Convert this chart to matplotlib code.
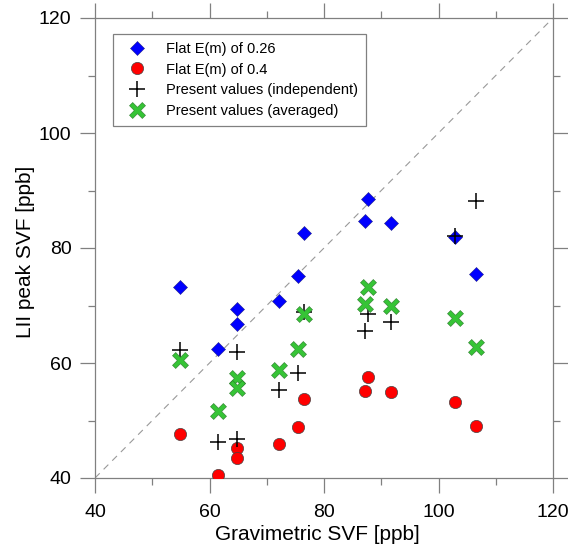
import matplotlib
matplotlib.use("Agg")
import numpy as np
import matplotlib.pyplot as plt
from matplotlib.ticker import MultipleLocator
from matplotlib.path import Path

plt.rcParams['font.family'] = ['Liberation Sans', 'DejaVu Sans']

gravimetric = [54.85, 61.5, 64.75, 64.75, 72.1, 75.5, 76.5, 87.2, 87.7, 91.7, 102.9, 106.5]
flat_026 = [73.2, 62.4, 69.4, 66.8, 70.8, 75.2, 82.6, 84.7, 88.5, 84.4, 81.9, 75.5]
flat_04 = [47.6, 40.5, 45.2, 43.4, 46.0, 48.9, 53.7, 55.2, 57.5, 54.9, 53.2, 49.1]
present_indep = [62.3, 46.3, 61.9, 46.7, 55.3, 58.3, 68.9, 65.6, 68.6, 67.1, 82.1, 88.2]
present_avg = [60.5, 51.7, 57.4, 55.6, 58.8, 62.4, 68.5, 70.3, 73.3, 70.0, 67.9, 62.7]

labels = ["Flat E(m) of 0.26", "Flat E(m) of 0.4",
          "Present values (independent)", "Present values (averaged)"]
xlim = (40, 120)
ylim = (40, 120)
xlabel = "Gravimetric SVF [ppb]"
ylabel = "LII peak SVF [ppb]"

# thin-armed filled X marker
a = 0.25
plus = np.array([(a, a), (a, 1), (-a, 1), (-a, a), (-1, a), (-1, -a), (-a, -a),
                 (-a, -1), (a, -1), (a, -a), (1, -a), (1, a), (a, a)])
c, s = np.cos(np.pi / 4), np.sin(np.pi / 4)
xverts = plus @ np.array([[c, s], [-s, c]])
codes = [Path.MOVETO] + [Path.LINETO] * (len(xverts) - 2) + [Path.CLOSEPOLY]
xmarker = Path(xverts, codes)

fig = plt.figure(figsize=(5.68, 5.48), dpi=100)
ax = fig.add_axes([95/568, 1-478/548, 458/568, 460/548])

ax.plot(xlim, ylim, linestyle=(0, (6, 5)), color='#999999', lw=0.8, zorder=1)

ax.plot(gravimetric, flat_026, linestyle='none', marker='D', ms=7,
        mfc='#0000ff', mec='#222288', mew=0.4, label=labels[0], zorder=3)
ax.plot(gravimetric, flat_04, linestyle='none', marker='o', ms=8.8,
        mfc='#ff0000', mec='#444444', mew=0.5, label=labels[1], zorder=3)
ax.plot(gravimetric, present_indep, linestyle='none', marker='+', ms=12,
        color='black', mew=1.1, label=labels[2], zorder=4)
ax.plot(gravimetric, present_avg, linestyle='none', marker=xmarker, ms=11.5,
        mfc='#36c436', mec='#2a7a2a', mew=0.4, label=labels[3], zorder=4)

ax.set_xlim(*xlim)
ax.set_ylim(*ylim)
ax.xaxis.set_major_locator(MultipleLocator(20))
ax.xaxis.set_minor_locator(MultipleLocator(10))
ax.yaxis.set_major_locator(MultipleLocator(20))
ax.yaxis.set_minor_locator(MultipleLocator(10))

for sp in ax.spines.values():
    sp.set_color('#808080')
    sp.set_linewidth(0.9)
ax.tick_params(which='both', direction='out', top=True, right=True,
               color='#808080', width=0.9, labelsize=14, pad=6)
ax.tick_params(which='major', length=11)
ax.tick_params(which='minor', length=5.2)
ax.tick_params(axis='x', pad=7.5)

ax.set_xlabel(xlabel, fontsize=15, labelpad=3)
ax.set_ylabel(ylabel, fontsize=15, labelpad=3)
ax.xaxis.label.set_x(0.485)
ax.yaxis.label.set_y(0.492)

leg = ax.legend(loc='upper left', bbox_to_anchor=(18/458, 1-16/460),
                borderaxespad=0, fontsize=10.5, frameon=True, fancybox=False,
                edgecolor='#808080', framealpha=1, handletextpad=0.9,
                labelspacing=0.45, borderpad=0.55, handlelength=2.2,
                numpoints=1)
leg.get_frame().set_linewidth(0.9)

fig.savefig("out.png", dpi=100)
